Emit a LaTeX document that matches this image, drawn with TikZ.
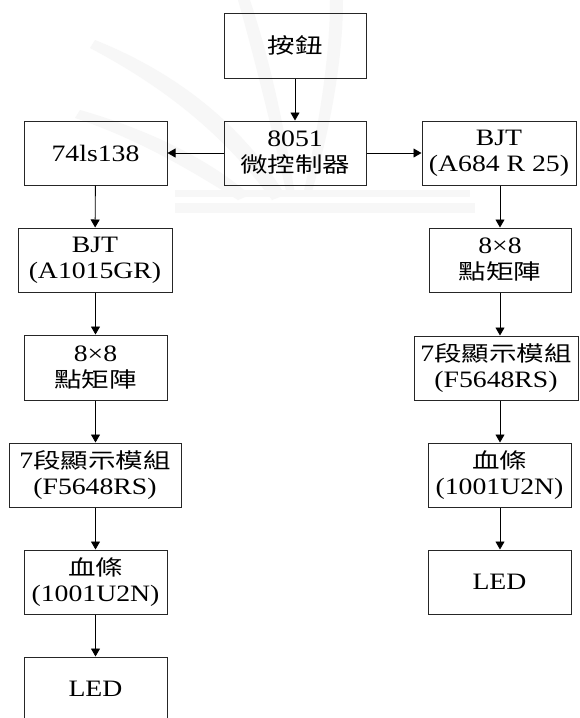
\documentclass[tikz,border=0pt]{standalone}
\usepackage{fontspec}
\setmainfont{Liberation Serif}[FakeStretch=1.18]
\newfontfamily\cjk{Noto Sans CJK TC}[Scale=0.9,FakeStretch=1.3]
\usetikzlibrary{arrows.meta}
\begin{document}
\begin{tikzpicture}[x=1pt,y=-1pt,
  blk/.style={draw=black!85,line width=1pt,fill=none,inner sep=0pt,align=center,
    font=\fontsize{23.5}{26}\selectfont,text=black},
  con/.style={draw=black,line width=0.9pt,-{Triangle[length=8pt,width=9pt]}},
  wm/.style={fill=black!3,draw=none}]
\useasboundingbox (0,0) rectangle (580,718);
\fill[white] (0,0) rectangle (580,718);
% faint watermark
\fill[wm] (95,40) .. controls (170,70) and (240,120) .. (285,195) -- (272,200) .. controls (220,130) and (160,85) .. (90,48) -- cycle;
\fill[wm] (80,110) .. controls (150,130) and (210,160) .. (250,195) -- (238,200) .. controls (190,170) and (140,140) .. (75,118) -- cycle;
\fill[wm] (250,0) .. controls (270,60) and (285,130) .. (295,195) -- (287,195) .. controls (272,130) and (255,60) .. (238,0) -- cycle;
\fill[wm] (330,0) .. controls (330,60) and (318,130) .. (303,195) -- (311,195) .. controls (330,130) and (343,60) .. (343,0) -- cycle;
\fill[wm] (175,190) -- (470,190) -- (470,197) -- (175,197) -- cycle;
\fill[wm] (175,203) -- (475,203) -- (475,213) -- (175,213) -- cycle;
% boxes
\node[blk,minimum width=142pt,minimum height=65pt] (btn) at (295,45.5) {{\cjk 按鈕}};
\node[blk,minimum width=142pt,minimum height=64pt] (mcu) at (295,153) {8051\\{\cjk 微控制器}};
\node[blk,minimum width=143pt,minimum height=64pt] (dec) at (95.5,153) {74ls138};
\node[blk,minimum width=154pt,minimum height=64pt] (bjtL) at (95,260) {BJT\\(A1015GR)};
\node[blk,minimum width=143pt,minimum height=65pt] (mxL) at (95.5,367.5) {8×8\\{\cjk 點矩陣}};
\node[blk,minimum width=172pt,minimum height=64pt] (sevL) at (95,475) {7{\cjk 段顯示模組}\\(F5648RS)};
\node[blk,minimum width=143pt,minimum height=64pt] (barL) at (95.5,582) {{\cjk 血條}\\(1001U2N)};
\node[blk,minimum width=143pt,minimum height=64pt] (ledL) at (95.5,689) {LED};
\node[blk,minimum width=154pt,minimum height=64pt] (bjtR) at (499,153) {BJT\\(A684 R 25)};
\node[blk,minimum width=142pt,minimum height=64pt] (mxR) at (500,260) {8×8\\{\cjk 點矩陣}};
\node[blk,minimum width=164pt,minimum height=64pt] (sevR) at (496,368) {7{\cjk 段顯示模組}\\(F5648RS)};
\node[blk,minimum width=143pt,minimum height=64pt] (barR) at (499.5,475) {{\cjk 血條}\\(1001U2N)};
\node[blk,minimum width=143pt,minimum height=64pt] (ledR) at (499.5,582) {LED};
% connectors
\draw[con] (btn) -- (mcu);
\draw[con] (mcu.west) -- (dec.east);
\draw[con] (mcu.east) -- (bjtR.west);
\draw[con] (dec) -- (bjtL);
\draw[con] (bjtL.south -| dec) -- (mxL);
\draw[con] (mxL) -- (sevL.north -| mxL);
\draw[con] (sevL.south -| mxL) -- (barL);
\draw[con] (barL) -- (ledL);
\draw[con] (bjtR.south -| mxR) -- (mxR);
\draw[con] (mxR) -- (sevR.north -| mxR);
\draw[con] (sevR.south -| mxR) -- (barR.north -| mxR);
\draw[con] (barR.south -| mxR) -- (ledR.north -| mxR);
\end{tikzpicture}
\end{document}
